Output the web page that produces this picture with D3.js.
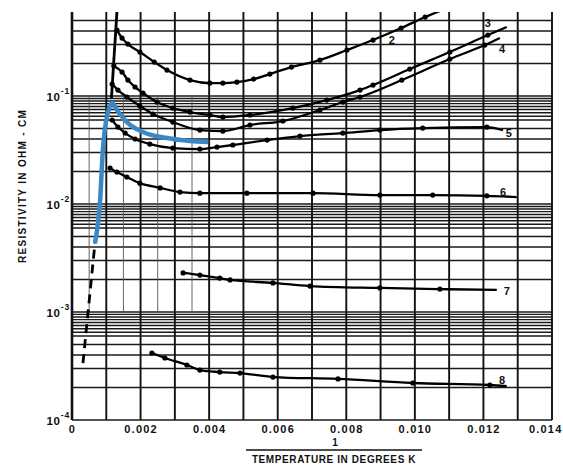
<!DOCTYPE html>
<meta charset="utf-8">
<body style="margin:0;background:#fff">
<script src="https://cdn.jsdelivr.net/npm/d3@7/dist/d3.min.js"></script>
<script>

    var width = 563,
        height = 469;

    // axis ticks
    var xTicks = [0, 0.002, 0.004, 0.006, 0.008, 0.010, 0.012, 0.014];
    var xTickLabels = ["0", "0.002", "0.004", "0.006", "0.008", "0.010", "0.012", "0.014"];
    var yTicks = [1e-4, 1e-3, 1e-2, 1e-1];
    var yTickExps = ["-4", "-3", "-2", "-1"];

    // curves (x = 1/T, value = ohm-cm)
    var c2x = [0.00131, 0.00146, 0.00163, 0.00198, 0.00240, 0.00277, 0.00344, 0.00402, 0.00440, 0.00481, 0.00530, 0.00577, 0.00640, 0.00723, 0.00802, 0.00878, 0.00960, 0.01030, 0.01080];
    var c2v = [0.408, 0.344, 0.303, 0.2555, 0.2064, 0.1741, 0.1406, 0.1319, 0.1319, 0.1348, 0.1437, 0.1598, 0.1856, 0.2154, 0.2667, 0.330, 0.426, 0.539, 0.6255];

    var riseX = [0.00115, 0.00131];
    var riseV = [0.095, 0.6];

    var c3x = [0.00122, 0.00146, 0.00163, 0.00184, 0.00207, 0.00248, 0.00294, 0.00344, 0.00402, 0.00440, 0.00519, 0.00644, 0.00743, 0.00840, 0.00878, 0.00985, 0.01102, 0.01213, 0.01268];
    var c3v = [0.190, 0.1668, 0.1406, 0.1212, 0.1066, 0.088, 0.0774, 0.0711, 0.0667, 0.0639, 0.0667, 0.0774, 0.0918, 0.1136, 0.1264, 0.1778, 0.2555, 0.3671, 0.4352];

    var c4x = [0.00117, 0.00134, 0.00160, 0.00198, 0.00236, 0.00294, 0.00373, 0.00440, 0.00519, 0.00615, 0.00723, 0.00790, 0.00840, 0.00962, 0.01102, 0.01204, 0.01248];
    var c4v = [0.1292, 0.1136, 0.0979, 0.0808, 0.0681, 0.0574, 0.0484, 0.0474, 0.0539, 0.0587, 0.0742, 0.088, 0.0979, 0.1406, 0.2201, 0.2966, 0.3444];

    var c5x = [0.00117, 0.00134, 0.00155, 0.00184, 0.00227, 0.00294, 0.00373, 0.00423, 0.00469, 0.00569, 0.00665, 0.00790, 0.00898, 0.01023, 0.01210, 0.01257];
    var c5v = [0.060, 0.0516, 0.0454, 0.040, 0.0359, 0.033, 0.0323, 0.0337, 0.0352, 0.0391, 0.0426, 0.0454, 0.0484, 0.0505, 0.0516, 0.0484];

    var c6x = [0.00111, 0.00131, 0.00160, 0.00198, 0.00257, 0.00315, 0.00373, 0.00510, 0.00703, 0.00898, 0.01052, 0.01210, 0.01297];
    var c6v = [0.0215, 0.0198, 0.0178, 0.0156, 0.0141, 0.0129, 0.0126, 0.0126, 0.0126, 0.0121, 0.0121, 0.0119, 0.0116];

    var c7x = [0.00324, 0.00373, 0.00431, 0.00461, 0.00586, 0.00694, 0.00898, 0.01073, 0.01239];
    var c7v = [0.0023, 0.0022, 0.00206, 0.00198, 0.00186, 0.00174, 0.00167, 0.00163, 0.0016];

    var c8x = [0.00233, 0.00271, 0.00335, 0.00373, 0.00431, 0.00490, 0.00586, 0.00776, 0.00994, 0.01219, 0.01268];
    var c8v = [0.000417, 0.000375, 0.000323, 0.00029, 0.000278, 0.000272, 0.00025, 0.00024, 0.00022, 0.000211, 0.000206];

    // blue overlay and dashed extension
    var blueX = [0.00067, 0.00082, 0.00090, 0.00105, 0.00117, 0.00131, 0.00160, 0.00207, 0.00277, 0.00344, 0.00397];
    var blueV = [0.00435, 0.01089, 0.0316, 0.0711, 0.0861, 0.0742, 0.0574, 0.0464, 0.0408, 0.0383, 0.0375];
    var dashX = [0.00032, 0.00067];
    var dashV = [0.000337, 0.00435];

    // curve numbers
    var labelText = ["2", "3", "4", "5", "6", "7", "8"];
    var labelX = [0.00933, 0.01213, 0.01254, 0.01274, 0.01257, 0.01268, 0.01254];
    var labelV = [0.33, 0.474, 0.2724, 0.0454, 0.0129, 0.001564, 0.000235];

    var x = d3.scaleLinear().domain([0, 0.014]).range([72, 552]);
    var y = d3.scaleLog().domain([1e-4, 0.6]).range([420, 12]);

    var svg = d3.select("body").append("svg")
            .attr("width", width)
            .attr("height", height)
            .style("font-family", "'Liberation Sans', Arial, sans-serif")
            .style("font-weight", "bold");

    //网格
    var grid = svg.append("g");
    var hVals = [];
    [-4, -3, -2, -1].forEach(function(d) {
        [1, 2, 3, 4, 5, 6, 6.5, 7, 7.5, 8, 8.5, 9, 9.5].forEach(function(m) {
            var v = m * Math.pow(10, d);
            if (v <= 0.6) hVals.push(v);
        });
    });
    grid.selectAll(".h").data(hVals).enter().append("line")
            .attr("x1", x(0)).attr("x2", x(0.014))
            .attr("y1", function(d) { return y(d); })
            .attr("y2", function(d) { return y(d); })
            .attr("stroke", "#1a1a1a")
            .attr("stroke-width", 1.4);

    var vVals = d3.range(0, 15).map(function(i) { return i * 0.001; });
    grid.selectAll(".v").data(vVals).enter().append("line")
            .attr("x1", function(d) { return x(d); })
            .attr("x2", function(d) { return x(d); })
            .attr("y1", y(0.6)).attr("y2", y(1e-4))
            .attr("stroke", "#111")
            .attr("stroke-width", function(d, i) { return i === 0 ? 2.6 : 1.9; });

    var thinVals = [0.0005, 0.0015, 0.0025, 0.0035];
    grid.selectAll(".t").data(thinVals).enter().append("line")
            .attr("x1", function(d) { return x(d); })
            .attr("x2", function(d) { return x(d); })
            .attr("y1", y(0.1)).attr("y2", y(0.001))
            .attr("stroke", "#555")
            .attr("stroke-width", 0.9);

    //坐标轴
    var xAxis = svg.append("g")
            .attr("transform", "translate(0," + 420 + ")")
            .call(d3.axisBottom(x).tickValues(xTicks).tickSize(0).tickPadding(5)
                .tickFormat(function(d, i) { return xTickLabels[i]; }));
    xAxis.select(".domain").remove();
    xAxis.selectAll("text")
            .attr("fill", "#111")
            .style("font-size", "11px")
            .style("letter-spacing", "1.2px");
    // last label would run off the page
    xAxis.selectAll("text").filter(function(d) { return d === 0.014; })
            .attr("text-anchor", "end")
            .attr("x", width - 552 - 1);

    var yAxis = svg.append("g")
            .attr("transform", "translate(" + 70 + ",0)")
            .call(d3.axisLeft(y).tickValues(yTicks).tickSize(0).tickPadding(0)
                .tickFormat(function() { return ""; }));
    yAxis.select(".domain").remove();
    yAxis.selectAll("text")
            .attr("fill", "#111")
            .style("font-size", "11.5px")
            .style("letter-spacing", "0.8px")
            .each(function(d, i) {
                var t = d3.select(this);
                t.append("tspan").text("10").attr("dy", "0.35em");
                t.append("tspan").text(yTickExps[i])
                    .attr("dy", "-0.75em")
                    .style("font-size", "8.5px");
            });

    svg.append("text")
            .attr("transform", "translate(26,186) rotate(-90)")
            .attr("text-anchor", "middle")
            .style("font-size", "10px")
            .style("letter-spacing", "1.3px")
            .attr("fill", "#111")
            .text("RESISTIVITY IN OHM - CM");

    svg.append("text")
            .attr("x", 335).attr("y", 446)
            .attr("text-anchor", "middle")
            .style("font-size", "10px")
            .attr("fill", "#111")
            .text("1");
    svg.append("line")
            .attr("x1", 246).attr("x2", 422)
            .attr("y1", 450).attr("y2", 450)
            .attr("stroke", "#111").attr("stroke-width", 1.3);
    svg.append("text")
            .attr("x", 334).attr("y", 463)
            .attr("text-anchor", "middle")
            .style("font-size", "10px")
            .style("letter-spacing", "0.6px")
            .attr("fill", "#111")
            .text("TEMPERATURE IN DEGREES K");

    //曲线
    var line = d3.line()
            .x(function(d) { return x(d[0]); })
            .y(function(d) { return y(d[1]); })
            .curve(d3.curveMonotoneX);

    var plot = svg.append("g");
    plot.append("clipPath").attr("id", "clip")
            .append("rect").attr("x", 72).attr("y", 12).attr("width", 480).attr("height", 408);

    function zip(xs, vs) {
        return xs.map(function(d, i) { return [d, vs[i]]; });
    }

    var curves = [zip(c2x, c2v), zip(c3x, c3v), zip(c4x, c4v), zip(c5x, c5v),
                  zip(c6x, c6v), zip(c7x, c7v), zip(c8x, c8v)];

    plot.append("path")
            .datum(zip(riseX, riseV))
            .attr("clip-path", "url(#clip)")
            .attr("d", line.curve(d3.curveLinear))
            .attr("fill", "none")
            .attr("stroke", "#000")
            .attr("stroke-width", 2.8);
    line.curve(d3.curveMonotoneX);

    curves.forEach(function(c) {
        plot.append("path")
                .datum(c)
                .attr("clip-path", "url(#clip)")
                .attr("d", line)
                .attr("fill", "none")
                .attr("stroke", "#000")
                .attr("stroke-width", 2.3);
        plot.selectAll(null).data(c.slice(0, c.length - 1)).enter().append("circle")
                .attr("cx", function(d) { return x(d[0]); })
                .attr("cy", function(d) { return y(d[1]); })
                .attr("r", 2.6)
                .attr("fill", "#000");
    });

    plot.append("path")
            .datum(zip(dashX, dashV))
            .attr("d", line)
            .attr("fill", "none")
            .attr("stroke", "#000")
            .attr("stroke-width", 2.8)
            .attr("stroke-dasharray", "9,6");

    plot.append("path")
            .datum(zip(blueX, blueV))
            .attr("d", line)
            .attr("fill", "none")
            .attr("stroke", "#3a88c6")
            .attr("stroke-width", 4.5)
            .attr("stroke-linejoin", "round");

    svg.selectAll(".lab").data(labelText).enter().append("text")
            .attr("x", function(d, i) { return x(labelX[i]); })
            .attr("y", function(d, i) { return y(labelV[i]); })
            .attr("dy", "0.35em")
            .attr("text-anchor", "middle")
            .style("font-size", "11px")
            .attr("fill", "#111")
            .text(function(d) { return d; });

</script>
